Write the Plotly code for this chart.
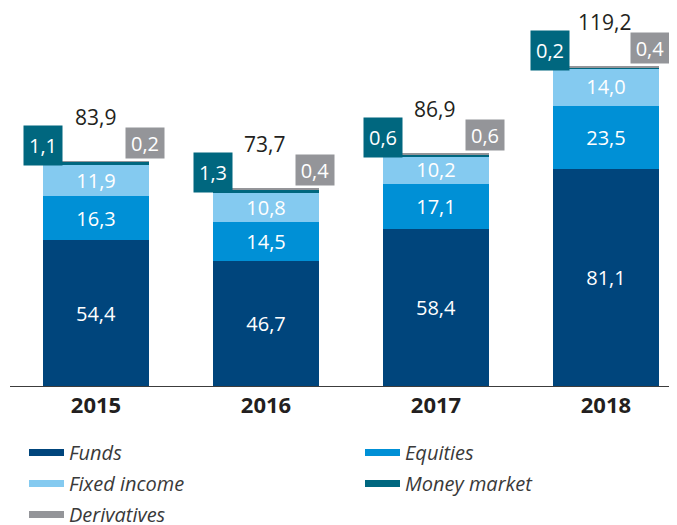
import plotly.graph_objects as go

years = ["2015", "2016", "2017", "2018"]
funds = [54.4, 46.7, 58.4, 81.1]
equities = [16.3, 14.5, 17.1, 23.5]
fixed_income = [11.9, 10.8, 10.2, 14.0]
money_market = [1.1, 1.3, 0.6, 0.2]
derivatives = [0.2, 0.4, 0.6, 0.4]
totals = [83.9, 73.7, 86.9, 119.2]

C_FUNDS = "#00457c"
C_EQ = "#0090d6"
C_FI = "#84caf0"
C_MM = "#00677f"
C_DER = "#949599"

FONT = "Open Sans"
BAR_W = 0.624

# page body has an 8px margin: figure is drawn 8px right/down
W, H = 669, 517

x = list(range(len(years)))


def fmt(v):
    return f"{v:.1f}".replace(".", ",")


fig = go.Figure()

series = [
    ("Funds", funds, C_FUNDS, True),
    ("Equities", equities, C_EQ, True),
    ("Fixed income", fixed_income, C_FI, True),
    ("Money market", money_market, C_MM, False),
    ("Derivatives", derivatives, C_DER, False),
]
for name, vals, col, lab in series:
    fig.add_trace(go.Bar(
        x=x, y=vals, name=name, marker=dict(color=col, line=dict(width=0)),
        width=BAR_W, showlegend=False,
        text=[fmt(v) for v in vals] if lab else None,
        textposition="inside" if lab else "none",
        insidetextanchor="middle", constraintext="none", textangle=0,
        textfont=dict(color="white", size=20, family=FONT),
        hoverinfo="skip",
    ))

# legend entries (line swatches)
legend_map = {"Funds": "legend", "Fixed income": "legend", "Derivatives": "legend",
              "Equities": "legend2", "Money market": "legend2"}
for i, (name, vals, col, lab) in enumerate(series):
    fig.add_trace(go.Scatter(
        x=[None], y=[None], mode="lines", name=name,
        line=dict(color=col, width=7), legend=legend_map[name],
        legendgroup=name, showlegend=True, hoverinfo="skip",
    ))

annotations = []
last = len(years) - 1
for i in x:
    annotations.append(dict(
        x=i, y=totals[i], xref="x", yref="y", text=fmt(totals[i]),
        showarrow=False, xanchor="center", yanchor="bottom", yshift=28, xshift=-1,
        font=dict(size=21, color="#231f20", family=FONT),
    ))
    annotations.append(dict(
        x=i - BAR_W / 2, y=totals[i], xref="x", yref="y", text=fmt(money_market[i]),
        showarrow=False, xanchor="left", yanchor="bottom", yshift=-5,
        xshift=-20 if i != last else -23,
        width=38, height=39, bgcolor=C_MM, borderpad=0,
        font=dict(size=20, color="white", family=FONT),
    ))
    annotations.append(dict(
        x=i + BAR_W / 2, y=totals[i], xref="x", yref="y", text=fmt(derivatives[i]),
        showarrow=False, xanchor="right", yanchor="bottom", yshift=2,
        xshift=16 if i != last else 11,
        width=38, height=30, bgcolor=C_DER, borderpad=0,
        font=dict(size=20, color="white", family=FONT),
    ))

legend_common = dict(
    orientation="v", xref="container", yref="container", yanchor="top", xanchor="left",
    font=dict(size=20, color="#3a3a3a", family=FONT, style="italic"),
    bgcolor="rgba(0,0,0,0)", tracegroupgap=2, itemwidth=35,
)

fig.update_layout(
    width=W, height=H,
    margin=dict(l=2, r=0, t=0, b=139, autoexpand=False),
    paper_bgcolor="white", plot_bgcolor="white",
    barmode="stack", separators=",.",
    showlegend=True,
    legend=dict(x=16 / W, y=1 - 425 / H, **legend_common),
    legend2=dict(x=352 / W, y=1 - 425 / H, **legend_common),
    xaxis=dict(
        range=[-0.506, 3.418], tickvals=x, ticktext=years,
        showline=True, linecolor="#3c3c3c", linewidth=1,
        showgrid=False, zeroline=False, ticks="", tickangle=0,
        tickfont=dict(size=22, color="#231f20", family=FONT, weight="bold"),
        ticklabelstandoff=0,
    ),
    yaxis=dict(range=[0, 141], visible=False, showgrid=False, zeroline=False),
    annotations=annotations,
    font=dict(family=FONT),
)

fig.write_html("out.html")
